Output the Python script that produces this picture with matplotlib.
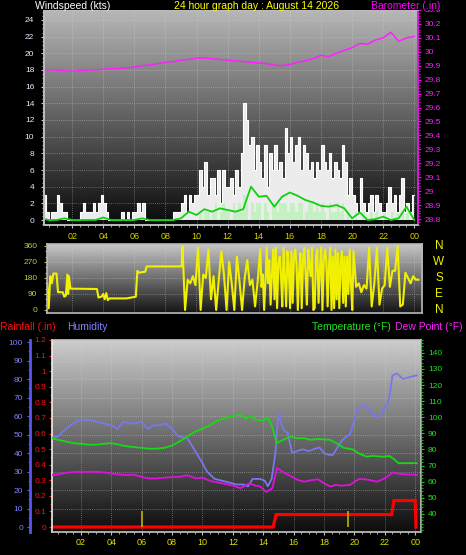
import numpy as np
import matplotlib
matplotlib.use('Agg')
import matplotlib.pyplot as plt
from matplotlib.patches import Rectangle
from matplotlib.ticker import MultipleLocator, FuncFormatter

plt.rcParams['font.family'] = ['Liberation Sans', 'DejaVu Sans']

W, H = 466, 555

# ---- data ----
hour_ticks = [2, 4, 6, 8, 10, 12, 14, 16, 18, 20, 22, 24]
hour_labels = ['02', '04', '06', '08', '10', '12', '14', '16', '18', '20', '22', '00']

# wind gust (kts), 10 minute samples from 00:00
wind_gust = [
    1, 3, 1, 0, 1, 1,
    3, 2, 1, 1, 0, 0,
    0, 0, 0, 1, 2, 1,
    1, 1, 2, 1, 2, 3,
    2, 1, 0, 0, 0, 0,
    0, 1, 0, 1, 0, 1,
    1, 2, 1, 2, 0, 0,
    0, 0, 0, 0, 0, 0,
    0, 0, 0, 1, 1, 1,
    2, 3, 1, 3, 2, 3,
    3, 6, 4, 7, 3, 5,
    5, 3, 6, 2, 6, 4,
    4, 5, 3, 6, 4, 8,
    14, 12, 9, 10, 6, 9,
    7, 5, 9, 4, 8, 6,
    9, 6, 7, 5, 11, 8,
    10, 7, 9, 10, 6, 9,
    8, 6, 7, 5, 7, 6,
    9, 7, 6, 8, 5, 7,
    6, 5, 9, 7, 3, 5,
    3, 2, 1, 5, 2, 1,
    2, 3, 1, 3, 2, 1,
    1, 2, 4, 2, 3, 1,
    3, 5, 1, 2, 1, 3,
]

# wind speed (kts), 10 minute samples (pale green bars)
wind_speed = [
    0, 0, 0, 0, 0, 0,
    0, 0, 0, 0, 0, 0,
    0, 0, 0, 0, 0, 0,
    0, 0, 0, 0, 0, 0,
    0, 0, 0, 0, 0, 0,
    0, 0, 0, 0, 0, 0,
    0, 0, 0, 0, 0, 0,
    0, 0, 0, 0, 0, 0,
    0, 0, 0, 0, 0, 0,
    0, 0, 0, 0, 0, 0,
    0, 1, 0, 1, 1, 0,
    1, 2, 0, 1, 2, 1,
    1, 0, 2, 1, 2, 1,
    3, 2, 0, 2, 1, 2,
    2, 0, 2, 1, 0, 2,
    2, 1, 2, 2, 2, 1,
    2, 2, 1, 2, 2, 0,
    1, 2, 2, 1, 2, 1,
    2, 1, 0, 2, 1, 1,
    2, 1, 2, 0, 1, 0,
    0, 1, 0, 0, 1, 0,
    0, 1, 0, 1, 0, 0,
    1, 0, 0, 1, 0, 1,
    0, 1, 0, 1, 0, 0,
]

# average wind (kts), 30 minute samples 00:00 .. 24:00
wind_avg = [0.2, 0.0, 0.0, 0.2, 0.0, 0.0, 0.0, 0.0, 0.3, 0.0,
            0.0, 0.0, 0.0, 0.2, 0.0, 0.0, 0.0, 0.0, 0.2, 1.0,
            0.6, 1.3, 1.0, 1.4, 1.2, 1.0, 1.3, 4.0, 2.8, 2.9,
            1.6, 2.8, 3.3, 2.9, 2.4, 2.1, 1.7, 1.6, 1.8, 1.4,
            0.2, 0.9, 0.0, 0.1, 0.4, 0.0, 0.2, 1.6, 0.0]

# barometer (in), 30 minute samples 00:00 .. 24:00
baro = [29.87, 29.87, 29.87, 29.865, 29.86, 29.865, 29.87, 29.87, 29.875, 29.878,
        29.88, 29.885, 29.89, 29.9, 29.905, 29.915, 29.925, 29.93, 29.94, 29.945,
        29.955, 29.955, 29.95, 29.945, 29.94, 29.935, 29.93, 29.925, 29.92, 29.915,
        29.905, 29.9, 29.91, 29.925, 29.935, 29.95, 29.975, 29.965, 29.99, 30.01,
        30.03, 30.06, 30.055, 30.085, 30.1, 30.14, 30.075, 30.1, 30.11]

baro_ticks = [28.8, 28.9, 29.0, 29.1, 29.2, 29.3, 29.4, 29.5, 29.6, 29.7,
              29.8, 29.9, 30.0, 30.1, 30.2, 30.3]

# wind direction (deg)
# calm early part (irregular times)
dir_early_hours = [0.4, 0.5, 0.6, 0.7, 0.8, 1.0, 1.1, 1.4, 1.5, 1.6, 1.7, 1.75, 1.8, 1.9,
                   3.6, 3.7, 3.9, 4.0, 4.1, 4.2, 4.3, 4.4, 5.5, 6.1, 6.2, 6.3, 6.7, 6.8, 9.05]
dir_early = [150, 10, 190, 150, 205, 205, 100, 100, 75, 80, 200, 90, 190, 120,
             118, 70, 75, 90, 60, 95, 55, 65, 65, 75, 220, 210, 215, 245, 245]
# 10 minute samples 09:06 .. 14:00
dir_morning = [
    360, 0, 170, 150, 190, 140,
    350, 0, 200, 180, 340, 60,
    190, 0, 170, 330, 200, 0,
    270, 150, 0, 300, 160, 0,
    180, 280, 140, 170, 20, 160,
]
# 5 minute samples 14:06 .. 20:01 (gusty, veering)
dir_afternoon = [
    340, 130, 200, 0, 160, 350, 150, 280, 30, 200, 340, 60,
    350, 10, 260, 300, 200, 20, 350, 180, 20, 330, 250, 10,
    330, 40, 300, 340, 260, 0, 220, 320, 10, 280, 350, 200,
    30, 340, 250, 190, 350, 0, 10, 300, 340, 40, 230, 350,
    0, 280, 340, 270, 20, 250, 350, 0, 300, 10, 340, 60,
    320, 10, 260, 330, 40, 300, 20, 300, 90, 340, 150, 0,
]
# 10 minute samples 20:06 .. 24:16
dir_evening = [
    330, 130, 150, 100, 140, 120,
    350, 20, 150, 350, 30, 120,
    140, 350, 130, 220, 220, 360,
    20, 30, 210, 180, 150, 190, 170, 170,
]
compass = ['N', 'W', 'S', 'E', 'N']
compass_deg = [360, 270, 180, 90, 0]

# humidity (%)
hum_hours = [0.1, 0.5, 1.0, 1.5, 2.0, 2.5, 3.0, 3.5, 4.0, 4.4, 4.8, 5.2, 5.6, 6.0, 6.4,
             6.8, 7.2, 7.6, 8.0, 8.4, 9.0, 9.3, 9.6, 9.9, 10.3, 10.8, 11.3, 11.8, 12.2,
             12.7, 13.0, 13.3, 13.8, 14.1, 14.3, 14.55, 14.8, 15.0, 15.2, 15.4, 15.6,
             15.9, 16.2, 16.6, 17.0, 17.3, 17.7, 18.0, 18.3, 18.6, 18.8, 19.2, 19.5,
             19.7, 19.9, 20.2, 20.6, 21.0, 21.5, 22.0, 22.3, 22.5, 22.8, 23.2, 23.6, 24.1]
humidity = [48, 49, 53, 56, 58, 58, 57, 56, 55, 53, 57, 56, 56, 57, 53,
            55, 55, 56, 53, 49, 48, 44, 40, 36, 30, 26, 25, 24, 23,
            23, 22, 26, 26, 25, 22, 26, 40, 62, 55, 52, 51,
            40, 41, 42, 41, 42, 43, 40, 39, 39, 42, 47, 49,
            50, 55, 64, 66, 63, 59, 64, 70, 82, 83, 80, 81, 82]

# temperature (F)
temp_hours = [0.1, 0.5, 1.0, 1.5, 2.0, 2.5, 3.0, 3.5, 4.0, 4.5, 5.0, 5.5, 6.0, 6.5, 7.0,
              7.5, 8.0, 8.5, 9.0, 9.5, 10.0, 10.5, 11.0, 11.5, 12.0, 12.5, 12.9, 13.1,
              13.5, 14.0, 14.3, 14.55, 14.9, 15.3, 15.8, 16.2, 16.7, 17.1, 17.6, 18.4,
              18.8, 19.3, 19.9, 20.3, 20.8, 21.2, 21.9, 22.3, 22.6, 22.9, 24.1]
temperature = [87, 86, 85, 84, 83.5, 83, 83, 83.5, 84, 83, 82, 81.5, 81, 80.5, 80.5,
               81, 82.5, 85, 88, 91, 93, 95, 98, 99.5, 101, 101.5, 99, 101,
               98.5, 98, 100, 95, 84, 86, 88, 87, 87, 86, 86.5, 86,
               84, 81, 80, 77.5, 75.5, 76, 75.5, 76, 74, 71.5, 71.5]

# dew point (F)
dew_hours = [0.1, 0.5, 1.0, 1.5, 2.0, 2.5, 3.0, 3.5, 4.0, 4.5, 5.0, 5.5, 6.0, 6.5, 7.0,
             7.5, 8.0, 8.5, 9.0, 9.3, 9.6, 10.0, 10.5, 11.0, 11.5, 12.0, 12.5, 13.1,
             13.5, 13.8, 14.2, 14.6, 14.9, 15.3, 15.9, 16.3, 16.7, 17.2, 17.6, 18.0,
             18.4, 18.8, 19.1, 19.7, 20.3, 20.7, 21.0, 21.5, 22.1, 22.5, 22.9, 23.2, 24.1]
dew_point = [64.2, 64.5, 65.5, 66, 66.2, 66, 66.2, 65.8, 65.2, 64.5, 64.2, 64.3, 63, 62, 62,
             62.5, 62.8, 63, 64, 63, 62, 62.5, 60.5, 59.5, 58.6, 57.5, 56, 59,
             57.5, 57, 53.6, 56, 68.5, 66, 63, 61, 60, 61, 61.5, 59,
             57, 58, 57.5, 58, 61.7, 61.5, 61, 60, 62.6, 65.8, 65, 64.6, 64.3]

# rainfall (in)
rain_hours = [0.1, 14.65, 14.85, 22.45, 22.6, 24.0, 24.05]
rainfall = [0, 0, 0.08, 0.08, 0.17, 0.17, 0]
rain_ticks = [0, 0.1, 0.2, 0.3, 0.4, 0.5, 0.6, 0.7, 0.8, 0.9, 1.0, 1.1, 1.2]
marker_hours = [6.0, 19.55]
hum_ticks = [0, 10, 20, 30, 40, 50, 60, 70, 80, 90, 100]
temp_ticks = [40, 50, 60, 70, 80, 90, 100, 110, 120, 130, 140]


def rect(x0, y0, x1, y1):
    return [x0 / W, 1 - y1 / H, (x1 - x0) / W, (y1 - y0) / H]


fig = plt.figure(figsize=(W / 100, H / 100), dpi=100, facecolor='black')
fmt_g = FuncFormatter(lambda v, p: f'{v:g}')


def background(r, xlim, ylim, top, bottom, ygrid):
    bg = fig.add_axes(r)
    shade = np.linspace(top, bottom, 256)[:, None]
    bg.imshow(shade, cmap='gray', vmin=0, vmax=1, aspect='auto',
              extent=(xlim[0], xlim[1], ylim[0], ylim[1]), interpolation='bilinear')
    for h in hour_ticks:
        bg.axvline(h, color='#d8d8d8', lw=0.6, ls=(0, (1, 1.5)), alpha=0.5)
    for v in ygrid:
        bg.axhline(v, color='#d8d8d8', lw=0.6, ls=(0, (1, 1.5)), alpha=0.5)
    bg.set_xlim(xlim)
    bg.set_ylim(ylim)
    bg.axis('off')
    return bg


def frame(ax, color='#bdbdbd'):
    for s in ax.spines.values():
        s.set_color(color)
        s.set_linewidth(1.2)


# ---------------- top panel: wind + barometer ----------------
r1 = rect(44, 10, 418, 225)
xl1 = (0.19, 24.24)
yl1 = (-0.6, 25.2)
background(r1, xl1, yl1, 0.72, 0.04, range(2, 25, 2))
ax1 = fig.add_axes(r1, facecolor='none')
frame(ax1)

tg = np.arange(len(wind_gust) + 1) / 6
gust = wind_gust + [wind_gust[-1]]
ax1.fill_between(tg, 0, gust, step='post', color='#ececec', lw=0)
ax1.step(tg, gust, where='post', color='white', lw=0.8)
spd = wind_speed + [wind_speed[-1]]
ax1.fill_between(tg, 0, spd, step='post', color='#c4f0c4', lw=0)
ta = np.arange(len(wind_avg)) / 2
ax1.plot(ta, wind_avg, color='#10d010', lw=1.3)

ax1.set_xlim(xl1)
ax1.set_ylim(yl1)
ax1.set_yticks(range(0, 25, 2))
ax1.yaxis.set_minor_locator(MultipleLocator(0.5))
ax1.set_xticks(hour_ticks, hour_labels)
ax1.xaxis.set_minor_locator(MultipleLocator(0.5))
ax1.tick_params(axis='y', which='both', color='#d0d0d0', labelcolor='#e4ecff',
                labelsize=6, length=2, pad=5)
ax1.tick_params(axis='y', which='minor', length=1.2)
ax1.tick_params(axis='x', which='both', color='#c0c0c0', labelcolor='#d2d200',
                labelsize=6.5, length=2, pad=3)
ax1.tick_params(axis='x', which='minor', length=1.2)

ax1b = ax1.twinx()
ax1b.plot(ta, baro, color='#ff20ff', lw=1.1)
ax1b.set_ylim(28.757, 30.30)
ax1b.set_yticks(baro_ticks)
ax1b.yaxis.set_major_formatter(fmt_g)
ax1b.yaxis.set_minor_locator(MultipleLocator(0.02))
ax1b.tick_params(axis='y', which='both', color='#ff00ff', labelcolor='#ff20ff',
                 labelsize=6, length=2, pad=3)
ax1b.tick_params(axis='y', which='minor', length=1.2)
frame(ax1b)
ax1b.spines['right'].set_color('#e000e0')

# ---------------- middle panel: wind direction ----------------
r2 = rect(47, 244, 422, 313)
xl2 = (0.39, 24.5)
yl2 = (-17, 371)
background(r2, xl2, yl2, 0.78, 0.08, [90, 180, 270])
ax2 = fig.add_axes(r2, facecolor='none')
frame(ax2, '#b8b8b8')
dh = (dir_early_hours
      + [9.1 + i / 6 for i in range(len(dir_morning))]
      + [14.1 + i / 12 for i in range(len(dir_afternoon))]
      + [20.1 + i / 6 for i in range(len(dir_evening))])
dv = dir_early + dir_morning + dir_afternoon + dir_evening
ax2.plot(dh, dv, color='#f0f000', lw=1.5)
ax2.set_xlim(xl2)
ax2.set_ylim(yl2)
ax2.set_xticks([])
ax2.set_yticks([0, 90, 180, 270, 360])
ax2.yaxis.set_minor_locator(MultipleLocator(30))
ax2.tick_params(axis='y', which='both', color='#c8c832', labelcolor='#c8c832',
                labelsize=6, length=2, pad=5)
ax2.tick_params(axis='y', which='minor', length=1.2)
for lab, d in zip(compass, compass_deg):
    ax2.text(1.045, d, lab, transform=ax2.get_yaxis_transform(), color='#f0f000',
             fontsize=8.5, ha='center', va='center')

# ---------------- bottom panel: rain, humidity, temperature ----------------
r3 = rect(52, 340, 421, 532)
xl3 = (0.1, 24.38)
hum_lim = (-2.7, 101.1)
background(r3, xl3, hum_lim, 0.8, 0.05, range(10, 101, 10))
ax3 = fig.add_axes(r3, facecolor='none')
frame(ax3, '#c8c8c8')
ax3.spines['left'].set_color('#f0f0f0')
ax3.plot(rain_hours, rainfall, color='#ff0000', lw=2.3, solid_joinstyle='miter')
ax3.vlines(marker_hours, 0, 0.1, color='#c0ae00', lw=1.2)
ax3.set_xlim(xl3)
ax3.set_ylim(-0.032, 1.19)
ax3.set_yticks(rain_ticks)
ax3.yaxis.set_major_formatter(fmt_g)
ax3.yaxis.set_minor_locator(MultipleLocator(0.05))
ax3.set_xticks(hour_ticks, hour_labels)
ax3.xaxis.set_minor_locator(MultipleLocator(0.5))
ax3.tick_params(axis='y', which='both', color='#ff2020', labelcolor='#ff1010',
                labelsize=6, length=2, pad=2)
ax3.tick_params(axis='y', which='minor', length=1.2)
ax3.tick_params(axis='x', which='both', color='#c0c0c0', labelcolor='#e0e000',
                labelsize=6.5, length=2, pad=2)
ax3.tick_params(axis='x', which='minor', length=1.2)

axh = ax3.twinx()
axh.plot(hum_hours, humidity, color='#7878ec', lw=1.3)
axh.set_ylim(hum_lim)
axh.yaxis.set_ticks_position('left')
# 22 px to the left of the rain axis (outward is given in points)
axh.spines['left'].set_position(('outward', 22 * 0.72))
axh.spines['left'].set_visible(True)
axh.spines['left'].set_color('#5858f0')
axh.spines['left'].set_linewidth(2)
for s in ['right', 'top', 'bottom']:
    axh.spines[s].set_visible(False)
axh.set_yticks(hum_ticks)
axh.yaxis.set_minor_locator(MultipleLocator(5))
axh.tick_params(axis='y', which='both', color='#6060f0', labelcolor='#8080ff',
                labelsize=6, length=2, pad=3)
axh.tick_params(axis='y', which='minor', length=1.2)

axt = ax3.twinx()
axt.plot(temp_hours, temperature, color='#18d818', lw=1.3)
axt.plot(dew_hours, dew_point, color='#e010e0', lw=1.3)
axt.set_ylim(28.76, 148)
axt.set_yticks(temp_ticks)
axt.yaxis.set_minor_locator(MultipleLocator(2))
axt.tick_params(axis='y', which='both', color='#20d020', labelcolor='#20e020',
                labelsize=6, length=2, pad=3)
axt.tick_params(axis='y', which='minor', length=1.2)
for s in ['left', 'top', 'bottom']:
    axt.spines[s].set_visible(False)
axt.spines['right'].set_color('#30c030')

# ---------------- titles ----------------
fig.add_artist(Rectangle((0, 1 - 10 / H), 1, 10 / H, transform=fig.transFigure,
                         facecolor='black', edgecolor='none', zorder=5))
ty = 1 - 6 / H
fig.text(35 / W, ty, 'Windspeed (kts)', color='white', fontsize=7.5, va='center', zorder=6)
fig.text(257 / W, ty, '24 hour graph day : August 14 2026', color='#ffff00', fontsize=7.5,
         ha='center', va='center', zorder=6)
fig.text(440 / W, ty, 'Barometer (.in)', color='#ff00ff', fontsize=7.5, ha='right',
         va='center', zorder=6)

by = 1 - 327 / H
fig.text(0, by, 'Rainfall (.in)', color='#ff1010', fontsize=7.5, va='center')
fig.text(67 / W, by, 'Humidity', color='#8080ff', fontsize=7.5, va='center')
fig.text(312 / W, by, 'Temperature (°F)', color='#20e020', fontsize=7.5, va='center')
fig.text(463 / W, by, 'Dew Point (°F)', color='#ff20ff', fontsize=7.5, ha='right', va='center')

fig.savefig('out.png', dpi=100, facecolor='black')
